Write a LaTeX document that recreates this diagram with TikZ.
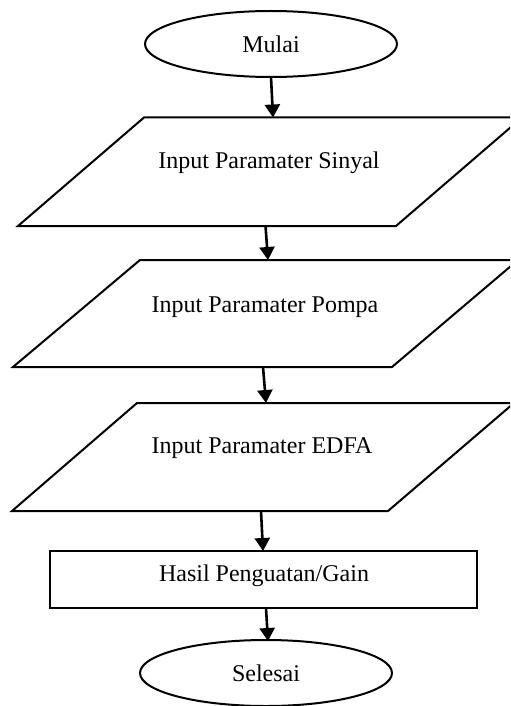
\documentclass[tikz,border=0pt]{standalone}
\usepackage{fontspec}
\setmainfont{Liberation Serif}
\usetikzlibrary{shapes.geometric,arrows.meta}
\begin{document}
\begin{tikzpicture}[x=0.5pt,y=-0.5pt,
  shapeline/.style={draw=black,line width=1pt},
  term/.style={shapeline,ellipse,minimum width=126pt,minimum height=33pt,inner sep=0pt,font=\fontsize{12}{14}\selectfont},
  txt/.style={font=\fontsize{12}{14}\selectfont,inner sep=0pt},
  flow/.style={draw=black,line width=1.3pt,-{Triangle[length=6.5pt,width=7.5pt]}}]
\useasboundingbox (0,0) rectangle (510,706);
\begin{scope}
\clip (0,0) rectangle (510,706);
% Start
\node[term] (mulai) at (271,44) {Mulai};
% Parallelogram 1
\draw[shapeline] (144,117.5) -- (522,117.5) -- (396,226) -- (18,226) -- cycle;
\node[txt] (p1) at (269,163) {Input Paramater Sinyal};
% Parallelogram 2
\draw[shapeline] (140,260) -- (518,260) -- (392,367) -- (13,367) -- cycle;
\node[txt] (p2) at (265,307) {Input Paramater Pompa};
% Parallelogram 3
\draw[shapeline] (137,403) -- (514,403) -- (388,511) -- (12,511) -- cycle;
\node[txt] (p3) at (262,448) {Input Paramater EDFA};
% Process
\node[shapeline,rectangle,minimum width=213.5pt,minimum height=28.5pt,inner sep=0pt] (hasil) at (263.5,579.5) {};
\node[txt] (hasiltxt) at (264,576) {Hasil Penguatan/Gain};
% End
\node[term] (selesai) at (266,673) {Selesai};
\end{scope}
% connector end points
\coordinate (a1s) at (271,77);   \coordinate (a1e) at (273,117.5);
\coordinate (a2s) at (265.5,226); \coordinate (a2e) at (268,260);
\coordinate (a3s) at (263,367);   \coordinate (a3e) at (266,403);
\coordinate (a4s) at (261,511);   \coordinate (a4e) at (263,551);
\coordinate (a5s) at (266,608);   \coordinate (a5e) at (268,641);
\draw[flow] (a1s) -- (a1e);
\draw[flow] (a2s) -- (a2e);
\draw[flow] (a3s) -- (a3e);
\draw[flow] (a4s) -- (a4e);
\draw[flow] (a5s) -- (a5e);
\end{tikzpicture}
\end{document}
